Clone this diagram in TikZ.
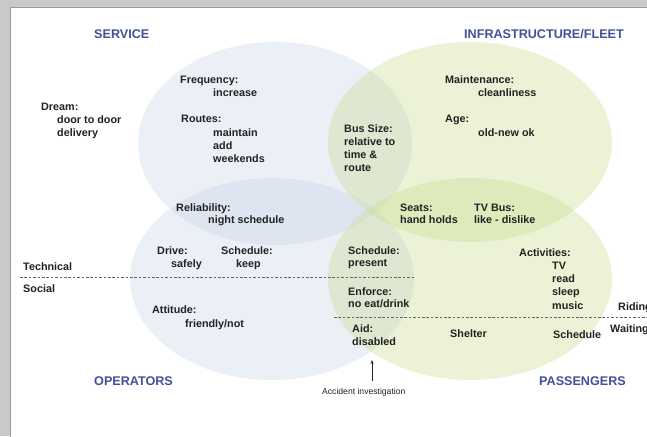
\documentclass[tikz,border=0pt]{standalone}
\usepackage{fontspec}
\setmainfont{Liberation Sans}
\usetikzlibrary{arrows.meta}
\definecolor{framegray}{HTML}{C9C9C9}
\definecolor{frameline}{HTML}{9A9A9A}
\definecolor{blueset}{HTML}{C3D0E6}
\definecolor{greenset}{HTML}{C8DD90}
\definecolor{headblue}{HTML}{43509A}
\definecolor{txt}{HTML}{222222}
\definecolor{dashgray}{HTML}{666666}
\begin{document}
\begin{tikzpicture}[x=1pt,y=-1pt,
  blueblob/.style={fill=blueset, fill opacity=0.32},
  greenblob/.style={fill=greenset, fill opacity=0.36},
  lbl/.style={anchor=base west, inner sep=0pt, text=txt,
    font=\bfseries\fontsize{10.8}{13}\selectfont},
  head/.style={anchor=base west, inner sep=0pt, text=headblue,
    font=\bfseries\fontsize{12.6}{15}\selectfont},
  note/.style={anchor=base west, inner sep=0pt, text=txt,
    font=\fontsize{8.6}{10}\selectfont},
  divider/.style={draw=dashgray, line width=0.9pt, dash pattern=on 2.6pt off 1.8pt}]
\clip (0,0) rectangle (647,436);
% slide frame
\fill[framegray] (0,0) rectangle (647,436);
\fill[white] (10.5,7) rectangle (648,437);
\draw[frameline, line width=0.8pt] (10.5,437) -- (10.5,7) -- (648,7);

% the four sets
\fill[blueblob] (275,143.5) ellipse [x radius=137, y radius=101.5];
\fill[blueblob] (272,279) ellipse [x radius=142, y radius=101];
\fill[greenblob] (470,142) ellipse [x radius=142, y radius=100];
\fill[greenblob] (470,279) ellipse [x radius=142, y radius=101];

% set titles
\node[head] (service) at (94,38.5) {SERVICE};
\node[head] (infra) at (464,38) {INFRASTRUCTURE/FLEET};
\node[head] (operators) at (94,385) {OPERATORS};
\node[head] (passengers) at (539,385) {PASSENGERS};

% service
\node[lbl] (dream) at (41,110) {Dream:};
\node[lbl] (dream1) at (57,123) {door to door};
\node[lbl] (dream2) at (57,136) {delivery};
\node[lbl] (freq) at (180,83) {Frequency:};
\node[lbl] (freq1) at (213,96) {increase};
\node[lbl] (routes) at (181,122) {Routes:};
\node[lbl] (routes1) at (213,136) {maintain};
\node[lbl] (routes2) at (213,149) {add};
\node[lbl] (routes3) at (213,162) {weekends};
\node[lbl] (rel) at (176,211) {Reliability:};
\node[lbl] (rel1) at (208,223) {night schedule};

% operators
\node[lbl] (drive) at (157,254) {Drive:};
\node[lbl] (drive1) at (171,267) {safely};
\node[lbl] (sched) at (221,254) {Schedule:};
\node[lbl] (sched1) at (236,267) {keep};
\node[lbl] (attitude) at (152,313) {Attitude:};
\node[lbl] (attitude1) at (185,327) {friendly/not};

% technical / social split
\node[lbl] (technical) at (23,270) {Technical};
\node[lbl] (social) at (23,292) {Social};
\coordinate (tsL) at (20,277);
\coordinate (tsR) at (414,277);
\draw[divider] (tsL) -- (tsR);

% infrastructure / fleet
\node[lbl] (maint) at (445,83) {Maintenance:};
\node[lbl] (maint1) at (478,96) {cleanliness};
\node[lbl] (age) at (445,122) {Age:};
\node[lbl] (age1) at (478,136) {old-new ok};
\node[lbl] (bus) at (344,132) {Bus Size:};
\node[lbl] (bus1) at (344,145) {relative to};
\node[lbl] (bus2) at (344,158) {time \&};
\node[lbl] (bus3) at (344,171) {route};
\node[lbl] (seats) at (400,211) {Seats:};
\node[lbl] (seats1) at (400,223) {hand holds};
\node[lbl] (tv) at (474,211) {TV Bus:};
\node[lbl] (tv1) at (474,223) {like - dislike};

% passengers
\node[lbl] (psched) at (348,254) {Schedule:};
\node[lbl] (psched1) at (348,266) {present};
\node[lbl] (enforce) at (348,295) {Enforce:};
\node[lbl] (enforce1) at (348,307) {no eat/drink};
\node[lbl] (act) at (519,256) {Activities:};
\node[lbl] (act1) at (552,269) {TV};
\node[lbl] (act2) at (552,282) {read};
\node[lbl] (act3) at (552,295) {sleep};
\node[lbl] (act4) at (552,309) {music};
\node[lbl] (aid) at (352,332) {Aid:};
\node[lbl] (aid1) at (352,345) {disabled};
\node[lbl] (shelter) at (450,337) {Shelter};
\node[lbl] (wsched) at (553,338) {Schedule};

% riding / waiting split
\node[lbl] (riding) at (618,310) {Riding};
\node[lbl] (waiting) at (610,332) {Waiting};
\coordinate (rwL) at (334,317);
\coordinate (rwR) at (648,317);
\draw[divider] (rwL) -- (rwR);

% accident investigation
\node[note] (acc) at (322,394) {Accident investigation};
\coordinate (acctip) at (372,360);
\draw[-{Stealth[length=4pt,width=3pt]}, line width=0.6pt, txt]
  (acctip |- 0,381) -- (acctip);
\end{tikzpicture}
\end{document}
